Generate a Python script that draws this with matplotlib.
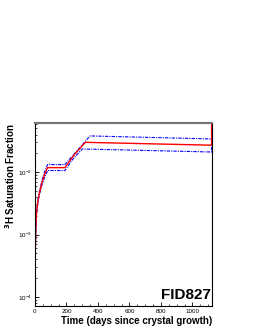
import matplotlib
matplotlib.use("Agg")
import matplotlib.pyplot as plt
from matplotlib.ticker import LogLocator, MultipleLocator, NullFormatter

plt.rcParams['font.family'] = ['Liberation Sans', 'DejaVu Sans']

# time (days) and saturation fraction
t_mid = [0, 2, 5, 10, 20, 30, 45, 60, 80, 190, 250, 320, 1122, 1122]
f_mid = [1.5e-4, 5e-4, 1.2e-3, 2.2e-3, 3.6e-3, 4.8e-3, 6.8e-3, 9e-3, 0.0118, 0.0118, 0.019, 0.030, 0.027, 1.0]

t_hi = [0, 2, 5, 10, 20, 30, 45, 60, 80, 190, 260, 350, 1122, 1122]
f_hi = [1.5e-4, 5e-4, 1.2e-3, 2.3e-3, 3.8e-3, 5.1e-3, 7.4e-3, 9.9e-3, 0.0132, 0.0132, 0.021, 0.038, 0.034, 1.0]

t_lo = [0, 2, 5, 10, 20, 30, 45, 60, 80, 190, 240, 300, 1122, 1122]
f_lo = [1.5e-4, 5e-4, 1.1e-3, 2.1e-3, 3.4e-3, 4.5e-3, 6.3e-3, 8.1e-3, 0.0106, 0.0106, 0.016, 0.0235, 0.021, 1.0]

fig = plt.figure(figsize=(2.55, 3.30), dpi=100)
ax = fig.add_axes([0.137, 0.073, 0.694, 0.554])

ax.plot(t_hi, f_hi, color='#0000ff', lw=0.8, ls=(0, (3, 1, 1, 1)))
ax.plot(t_lo, f_lo, color='#0000ff', lw=0.8, ls=(0, (3, 1, 1, 1)))
ax.plot(t_mid, f_mid, color='#ff0000', lw=1.0)

ax.set_yscale('log')
ax.set_xlim(0, 1124)
ax.set_ylim(7.2e-5, 0.061)

ax.xaxis.set_major_locator(MultipleLocator(200))
ax.xaxis.set_minor_locator(MultipleLocator(50))
ax.yaxis.set_major_locator(LogLocator(base=10))
ax.yaxis.set_minor_locator(LogLocator(base=10, subs=range(2, 10)))
ax.yaxis.set_minor_formatter(NullFormatter())
ax.tick_params(which='both', direction='in', labelsize=4.5, top=False, right=False, pad=2)
ax.tick_params(which='major', length=3, width=0.6)
ax.tick_params(which='minor', length=1.5, width=0.5)

for s in ['left', 'right', 'bottom']:
    ax.spines[s].set_linewidth(0.8)
ax.spines['top'].set_color('#777777')
ax.spines['top'].set_linewidth(1.6)

ax.set_xlabel('Time (days since crystal growth)', fontsize=7, fontweight='bold', loc='right', labelpad=1.5)
ax.set_ylabel('$\\mathbf{^{3}}$H Saturation Fraction', fontsize=7, fontweight='bold', loc='top', labelpad=1)

ax.text(0.995, 0.02, 'FID827', transform=ax.transAxes, ha='right', va='bottom',
        fontsize=11, fontweight='bold')

fig.savefig('out.png', dpi=100)
